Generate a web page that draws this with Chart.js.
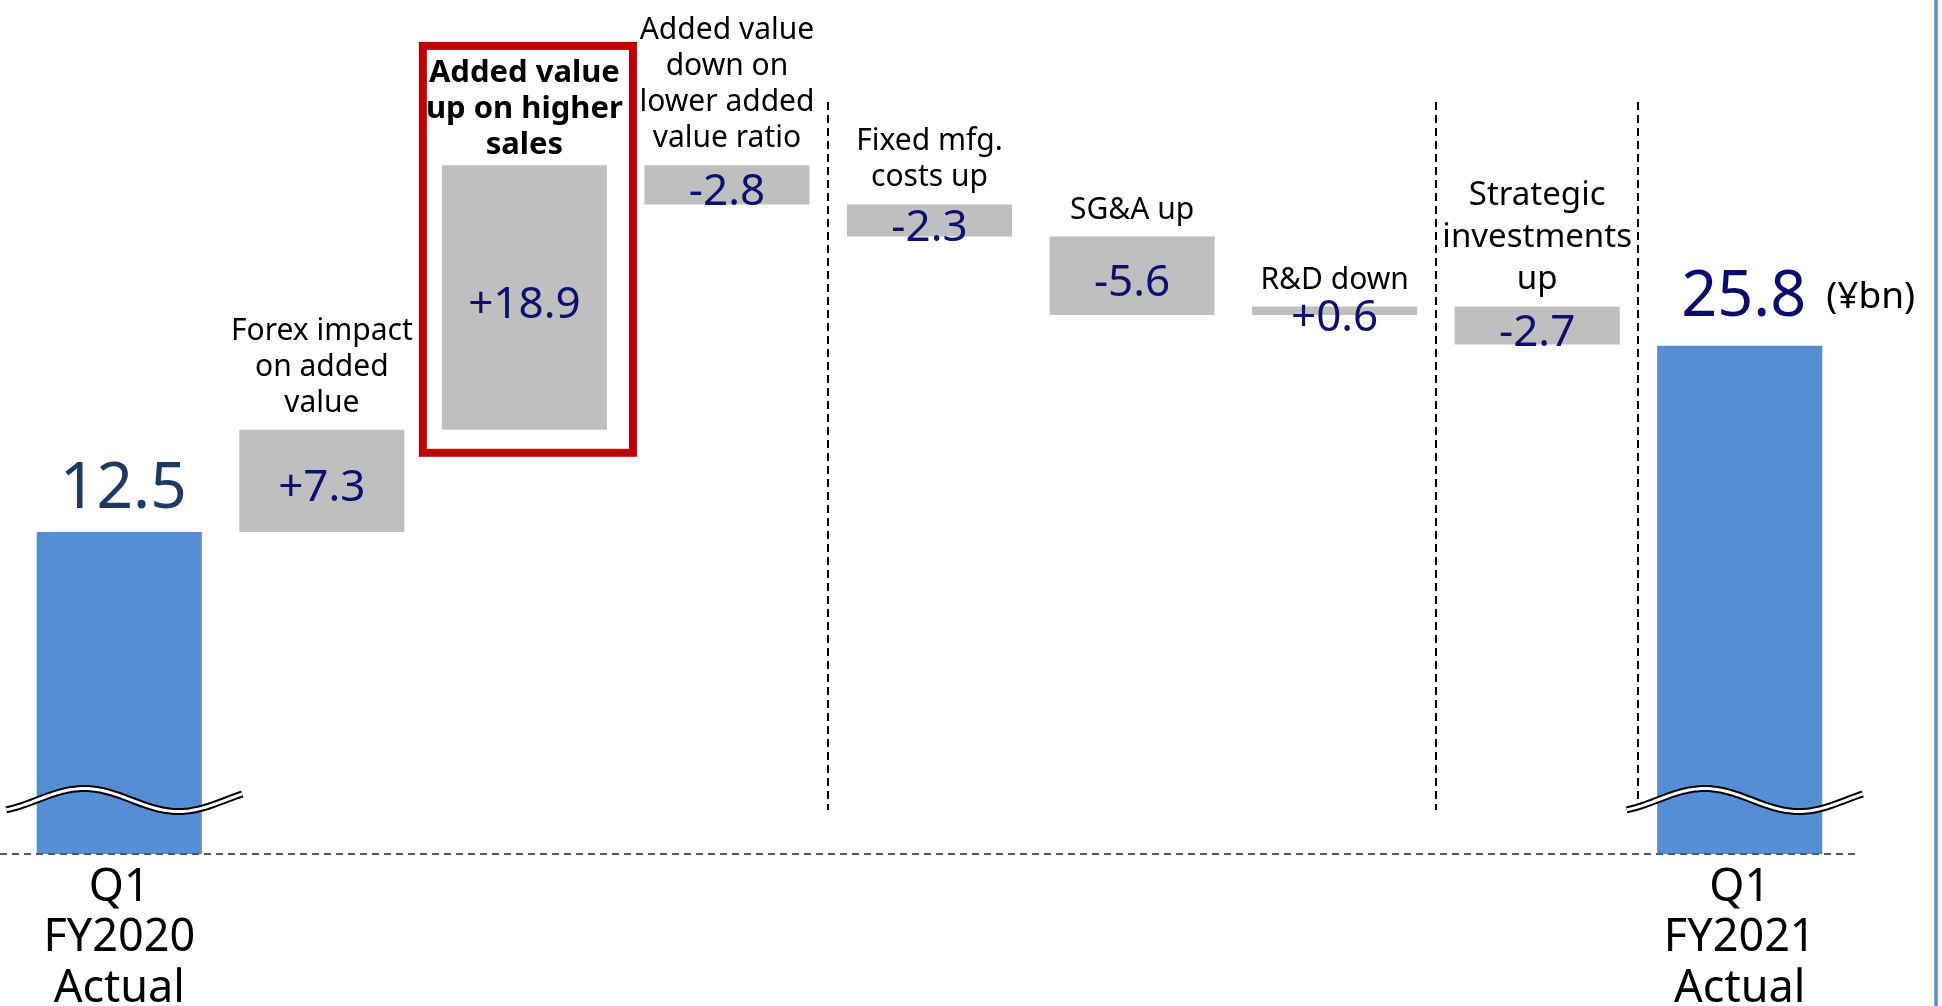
<!DOCTYPE html>
<html>
<head>
<meta charset="utf-8">
<script src="https://cdn.jsdelivr.net/npm/chart.js@4.4.1/dist/chart.umd.min.js"></script>
<style>
  html, body { margin: 0; padding: 0; background: #fff; }
  #wrap { width: 1942px; height: 1006px; position: relative; }
</style>
</head>
<body>
<div id="wrap"><canvas id="bridgeChart"></canvas></div>
<script>
// ---- data ----
const categories = [
  ['Q1', 'FY2020', 'Actual'],
  ['Forex impact', 'on added', 'value'],
  ['Added value', 'up on higher', 'sales'],
  ['Added value', 'down on', 'lower added', 'value ratio'],
  ['Fixed mfg.', 'costs up'],
  ['SG&A up'],
  ['R&D down'],
  ['Strategic', 'investments', 'up'],
  ['Q1', 'FY2021', 'Actual']
];
const startValue = 12.5;
const changes = [7.3, 18.9, -2.8, -2.3, -5.6, 0.6, -2.7];
const endValue = 25.8;
const unitLabel = '(¥bn)';
const highlightIndex = 2;          // boxed item
const separatorsAfter = [3, 6, 7]; // dashed dividers after these categories

// axis is broken (wave marks), so the floor is just where the bars are cut
const Y_MIN = -10.5;
const Y_MAX = 50.5;

const BLUE = '#558ed5';
const GRAY = '#bfbfbf';
const NAVY = '#0f0f70';

// floating bars for the bridge
const bars = [[Y_MIN, startValue]];
let running = startValue;
changes.forEach(c => {
  bars.push([running, running + c]);
  running += c;
});
bars.push([Y_MIN, endValue]);

const last = categories.length - 1;
const colors = bars.map((b, i) => (i === 0 || i === last) ? BLUE : GRAY);

function fmt(v) {
  return (v > 0 ? '+' : '') + v.toFixed(1);
}

function drawWave(ctx, cx, cy, w) {
  const x0 = cx - w / 2 + 5;
  const amp = 11.5;
  ctx.beginPath();
  for (let t = 0; t <= w; t += 2) {
    const y = cy - amp * Math.cos(2 * Math.PI * (t - 0.33 * w) / (0.8 * w));
    if (t === 0) ctx.moveTo(x0 + t, y); else ctx.lineTo(x0 + t, y);
  }
  ctx.lineCap = 'butt';
  ctx.strokeStyle = '#000';
  ctx.lineWidth = 7;
  ctx.stroke();
  ctx.strokeStyle = '#fff';
  ctx.lineWidth = 3;
  ctx.stroke();
}

const bridgeDecor = {
  id: 'bridgeDecor',
  afterDatasetsDraw(chart) {
    const ctx = chart.ctx;
    const area = chart.chartArea;
    const xs = chart.scales.x;
    const els = chart.getDatasetMeta(0).data;
    ctx.save();

    // vertical dashed dividers
    ctx.strokeStyle = '#000';
    ctx.lineWidth = 2;
    ctx.setLineDash([8, 5]);
    separatorsAfter.forEach(i => {
      const x = Math.round((xs.getPixelForValue(i) + xs.getPixelForValue(i + 1)) / 2);
      ctx.beginPath();
      ctx.moveTo(x, area.top + 102);
      ctx.lineTo(x, area.bottom - 44);
      ctx.stroke();
    });

    // dashed baseline
    const lastEl = els[last];
    ctx.strokeStyle = '#595959';
    ctx.setLineDash([7, 5]);
    ctx.beginPath();
    ctx.moveTo(0, area.bottom);
    ctx.lineTo(lastEl.x + lastEl.width / 2 + 34, area.bottom);
    ctx.stroke();
    ctx.setLineDash([]);

    // axis break marks on the two totals
    [0, last].forEach(i => drawWave(ctx, els[i].x, area.bottom - 54, 236));

    ctx.textAlign = 'center';
    ctx.textBaseline = 'alphabetic';

    els.forEach((el, i) => {
      const top = Math.min(el.y, el.base);
      const bottom = Math.max(el.y, el.base);
      if (i === 0 || i === last) {
        const size = i === 0 ? 64 : 63;
        ctx.font = size + 'px "Noto Sans"';
        ctx.fillStyle = i === 0 ? '#1f3864' : '#0c0c6e';
        const txt = (i === 0 ? startValue : endValue).toFixed(1);
        const by = top - (i === 0 ? 24 : 30);
        ctx.fillText(txt, el.x + 4, by);
        if (i === last) {
          const tw = ctx.measureText(txt).width;
          ctx.font = '37px "Noto Sans"';
          ctx.fillStyle = '#000';
          ctx.textAlign = 'left';
          ctx.fillText(unitLabel, el.x + 4 + tw / 2 + 20, by - 8);
          ctx.textAlign = 'center';
        }
        return;
      }
      // value inside the bar
      ctx.font = '44px "Noto Sans"';
      ctx.fillStyle = NAVY;
      ctx.fillText(fmt(changes[i - 1]), el.x, (top + bottom) / 2 + 16 + 4);

      // category label above the bar
      const lines = categories[i];
      const bold = i === highlightIndex;
      const fs = bold ? 31 : (i === 7 ? 33 : 30);
      const lh = i === 7 ? 42 : 36;
      ctx.font = (bold ? 'bold ' : '') + fs + 'px "Noto Sans"';
      ctx.fillStyle = '#000';
      const baseY = top - (bold ? 11 : 18);
      lines.forEach((ln, k) => {
        ctx.fillText(ln, el.x, baseY - (lines.length - 1 - k) * lh);
      });

      if (bold) {
        const boxTop = baseY - (lines.length - 1) * lh - fs * 0.72 - 14;
        const left = el.x - el.width / 2 - 19;
        const right = el.x + el.width / 2 + 26;
        ctx.strokeStyle = '#c00000';
        ctx.lineWidth = 8;
        ctx.strokeRect(left, boxTop, right - left, bottom + 23 - boxTop);
      }
    });

    // slide edge line on the right
    ctx.strokeStyle = BLUE;
    ctx.lineWidth = 3.5;
    ctx.beginPath();
    ctx.moveTo(1936, 0);
    ctx.lineTo(1936, chart.height);
    ctx.stroke();

    ctx.restore();
  }
};

new Chart(document.getElementById('bridgeChart'), {
  type: 'bar',
  data: {
    labels: categories,
    datasets: [{
      data: bars,
      backgroundColor: colors,
      borderWidth: 0,
      barPercentage: 0.815,
      categoryPercentage: 1
    }]
  },
  options: {
    responsive: true,
    maintainAspectRatio: false,
    animation: false,
    layout: { padding: { left: 18, right: 101, top: 0, bottom: 0 } },
    plugins: {
      legend: { display: false },
      tooltip: { enabled: false }
    },
    scales: {
      x: {
        grid: { display: false, drawTicks: false },
        border: { display: false },
        ticks: {
          padding: 9,
          color: '#000',
          font: { family: 'Noto Sans', size: 45, lineHeight: 1.12 },
          maxRotation: 0,
          autoSkip: false,
          callback: (v, i) => (i === 0 || i === last) ? categories[i] : ''
        },
        afterFit: (scale) => { scale.height = 152; }
      },
      y: {
        display: false,
        min: Y_MIN,
        max: Y_MAX
      }
    }
  },
  plugins: [bridgeDecor]
});
</script>
</body>
</html>
